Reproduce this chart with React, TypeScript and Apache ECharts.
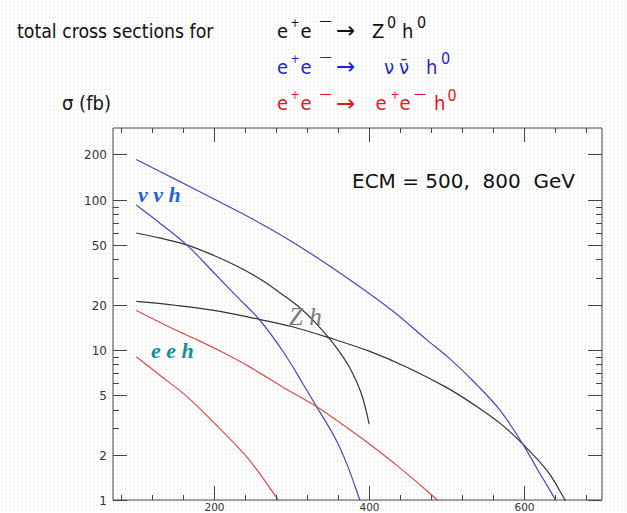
import React, { useEffect, useRef } from "react";
import * as echarts from "echarts";

// ---------- axis ranges & ticks ----------
const X_MIN = 70;
const X_MAX = 700;
const Y_MIN = 1;
const Y_MAX = 300;

const yMajorTicks = [1, 2, 5, 10, 20, 50, 100, 200];
const yMinorTicks = [3, 4, 6, 7, 8, 9, 30, 40, 60, 70, 80, 90];
const xMajorTicks = [200, 400, 600];
const xMinorTicks = [80, 120, 160, 240, 280, 320, 360, 440, 480, 520, 560, 640, 680];

// ---------- curves: [m_h, sigma(fb)] ----------
const zh500 = [
  [100, 60], [130, 55.6], [165, 50], [200, 42.5], [230, 36], [260, 29.5], [290, 23],
  [310, 19.2], [330, 15.3], [347, 12.2], [360, 10], [375, 7.6], [390, 5.1], [400, 3.2],
];
const zh800 = [
  [100, 21], [150, 19.8], [200, 18.3], [260, 15.9], [300, 14.3], [347, 12.1], [400, 9.8],
  [450, 7.6], [500, 5.6], [540, 4.15], [570, 3.2], [600, 2.3], [630, 1.55], [650, 1.05], [665, 0.75],
];
const nnh800 = [
  [100, 185], [150, 137], [200, 101], [259, 70], [310, 49], [375, 29.3], [430, 18.2],
  [474, 11.7], [503, 8.8], [534, 6.2], [568, 4.0], [597, 2.4], [620, 1.5], [640, 1.0], [655, 0.68],
];
const nnh500 = [
  [100, 92], [130, 70], [165, 50], [200, 32.6], [230, 22.5], [259, 15.8], [290, 9.6],
  [315, 5.9], [332, 4.2], [356, 2.6], [372, 1.7], [388, 1.0], [398, 0.72],
];
const eeh800 = [
  [100, 18.3], [150, 13.6], [178, 11.7], [210, 9.7], [246, 7.7], [290, 5.6], [332, 4.2],
  [358, 3.4], [394, 2.5], [440, 1.63], [488, 1.0], [500, 0.88],
];
const eeh500 = [
  [100, 9.0], [130, 6.8], [165, 4.9], [203, 3.16], [240, 2.0], [259, 1.5], [283, 1.0], [292, 0.86],
];

const AXIS_COLOR = "#444";
const SANS = "'DejaVu Sans Condensed', 'Liberation Sans', sans-serif";
const WIDE = "'DejaVu Sans', sans-serif";
const TICK_FONT = "'DejaVu Sans', sans-serif";
const SERIF = "'Liberation Serif', 'DejaVu Serif', serif";

// text positioned by its baseline
function seg(text: string, x: number, baseline: number, size: number, color: string, extra: any = {}) {
  return segC(text, x, baseline - 0.35 * size, size, color, extra);
}
// text positioned by its vertical centre
function segC(text: string, x: number, cy: number, size: number, color: string, extra: any = {}) {
  return {
    type: "text",
    x,
    y: cy,
    silent: true,
    z: 10,
    style: {
      text,
      fontSize: size,
      fontFamily: SANS,
      fill: color,
      align: "left",
      verticalAlign: "middle",
      ...extra,
    },
  };
}

function prefix(baseline: number, color: string) {
  return [
    seg("e", 277, baseline, 20, color),
    seg("+", 290.5, baseline - 10.8, 12, color),
    seg("e", 300.5, baseline, 20, color),
    segC("\u2014", 319.5, baseline - 17.5, 13.5, color),
    segC("\u2192", 336, baseline - 7.5, 23, color, { fontFamily: WIDE }),
  ];
}

function makeDots(): any {
  if (typeof document === "undefined") return "#ffffff";
  const c = document.createElement("canvas");
  c.width = 4;
  c.height = 4;
  const ctx = c.getContext("2d");
  if (!ctx) return "#ffffff";
  ctx.fillStyle = "#ffffff";
  ctx.fillRect(0, 0, 4, 4);
  ctx.fillStyle = "#dcdcdc";
  ctx.fillRect(1, 1, 1, 1);
  return { image: c, repeat: "repeat" };
}

function buildOption() {
  const B1 = 37.5;
  const B2 = 73.5;
  const B3 = 110;
  const black = "#111";
  const blue = "#1f1fe0";
  const red = "#e8131c";

  const graphic: any[] = [
    {
      type: "rect",
      silent: true,
      z: -10,
      shape: { x: 0, y: 0, width: 627, height: 513 },
      style: { fill: makeDots() },
    },
    seg("total cross sections for", 17, 38, 19.3, black),
    ...prefix(B1, black),
    seg("Z", 372, B1, 20, black),
    seg("0", 387, B1 - 9.2, 16, black),
    seg("h", 402, B1, 20, black),
    seg("0", 417, B1 - 9.2, 16, black),

    ...prefix(B2, blue),
    seg("\u03bd", 384, B2, 20, blue),
    seg("\u03bd\u0304", 399, B2, 20, blue),
    seg("h", 426, B2, 20, blue),
    seg("0", 441, B2 - 9.2, 16, blue),

    ...prefix(B3, red),
    seg("e", 375.5, B3, 20, red),
    seg("+", 390.5, B3 - 10.8, 12, red),
    seg("e", 399.5, B3, 20, red),
    segC("\u2014", 414, B3 - 17.5, 13.5, red),
    seg("h", 434, B3, 20, red),
    seg("0", 447.5, B3 - 9.2, 16, red),

    seg("\u03c3 (fb)", 62, B3, 20, black),

    seg("ECM = 500,  800  GeV", 352, 187.5, 20, black, { fontFamily: WIDE }),
    seg("\u03bd \u03bd h", 138, 201.7, 22, "#1f64dc", { fontFamily: SERIF, fontWeight: "bold", fontStyle: "italic" }),
    seg("e e h", 151, 358.3, 22, "#138f96", { fontFamily: SERIF, fontWeight: "bold", fontStyle: "italic" }),
    seg("Z h", 289, 325, 25, "#7a7a7a", { fontFamily: SERIF, fontStyle: "italic" }),
  ];

  const yTickData = [
    ...yMajorTicks.map((v) => [X_MIN, v, 1]),
    ...yMinorTicks.map((v) => [X_MIN, v, 0]),
  ];
  const xTickData = [
    ...xMajorTicks.map((v) => [v, Y_MIN, 1]),
    ...xMinorTicks.map((v) => [v, Y_MIN, 0]),
  ];

  const curve = (name: string, data: number[][], color: string) => ({
    name,
    type: "line",
    data,
    smooth: 0.35,
    showSymbol: false,
    symbol: "none",
    clip: true,
    silent: true,
    lineStyle: { color, width: 1.2 },
    z: 3,
  });

  return {
    animation: false,
    grid: {
      left: 113,
      right: 25,
      top: 128,
      bottom: 13,
      show: true,
      borderColor: AXIS_COLOR,
      borderWidth: 1,
      backgroundColor: "transparent",
    },
    xAxis: { type: "value", min: X_MIN, max: X_MAX, show: false },
    yAxis: { type: "log", logBase: 10, min: Y_MIN, max: Y_MAX, show: false },
    graphic,
    series: [
      curve("Zh 500", zh500, "#333333"),
      curve("Zh 800", zh800, "#333333"),
      curve("nnh 800", nnh800, "#4646c8"),
      curve("nnh 500", nnh500, "#4646c8"),
      curve("eeh 800", eeh800, "#e04848"),
      curve("eeh 500", eeh500, "#e04848"),
      {
        name: "yticks",
        type: "custom",
        coordinateSystem: "cartesian2d",
        encode: { x: 0, y: 1 },
        clip: false,
        silent: true,
        z: 5,
        data: yTickData,
        renderItem: (params: any, api: any) => {
          const cs = params.coordSys;
          const v = api.value(1);
          const major = api.value(2) === 1;
          const y = Math.round(api.coord([X_MIN, v])[1]) + 0.5;
          const len = major ? 14 : 6;
          const left = cs.x;
          const right = cs.x + cs.width;
          const children: any[] = [
            { type: "line", shape: { x1: left, y1: y, x2: left + len, y2: y }, style: { stroke: AXIS_COLOR, lineWidth: 1 } },
            { type: "line", shape: { x1: right - len, y1: y, x2: right, y2: y }, style: { stroke: AXIS_COLOR, lineWidth: 1 } },
          ];
          if (major) {
            children.push({
              type: "text",
              style: {
                text: String(v),
                x: left - 6,
                y,
                align: "right",
                verticalAlign: "middle",
                fontSize: 12,
                fontFamily: TICK_FONT,
                fill: "#333",
              },
            });
          }
          return { type: "group", children };
        },
      },
      {
        name: "xticks",
        type: "custom",
        coordinateSystem: "cartesian2d",
        encode: { x: 0, y: 1 },
        clip: false,
        silent: true,
        z: 5,
        data: xTickData,
        renderItem: (params: any, api: any) => {
          const cs = params.coordSys;
          const v = api.value(0);
          const major = api.value(2) === 1;
          const x = Math.round(api.coord([v, Y_MIN])[0]) + 0.5;
          const len = major ? 14 : 5;
          const top = cs.y;
          const bottom = cs.y + cs.height;
          const children: any[] = [
            { type: "line", shape: { x1: x, y1: bottom, x2: x, y2: bottom - len }, style: { stroke: AXIS_COLOR, lineWidth: 1 } },
            { type: "line", shape: { x1: x, y1: top, x2: x, y2: top + len }, style: { stroke: AXIS_COLOR, lineWidth: 1 } },
          ];
          if (major) {
            children.push({
              type: "text",
              style: {
                text: String(v),
                x,
                y: 512,
                align: "center",
                verticalAlign: "bottom",
                fontSize: 10.5,
                fontFamily: TICK_FONT,
                fill: "#333",
              },
            });
          }
          return { type: "group", children };
        },
      },
    ],
  };
}

export default function App() {
  const ref = useRef<HTMLDivElement>(null);
  useEffect(() => {
    if (!ref.current) return;
    const chart = echarts.init(ref.current, null, { renderer: "svg" });
    chart.setOption(buildOption() as any);
    return () => chart.dispose();
  }, []);
  return (
    <div
      ref={ref}
      style={{ position: "fixed", left: 0, top: 0, width: 627, height: 513, background: "#fff" }}
    />
  );
}
